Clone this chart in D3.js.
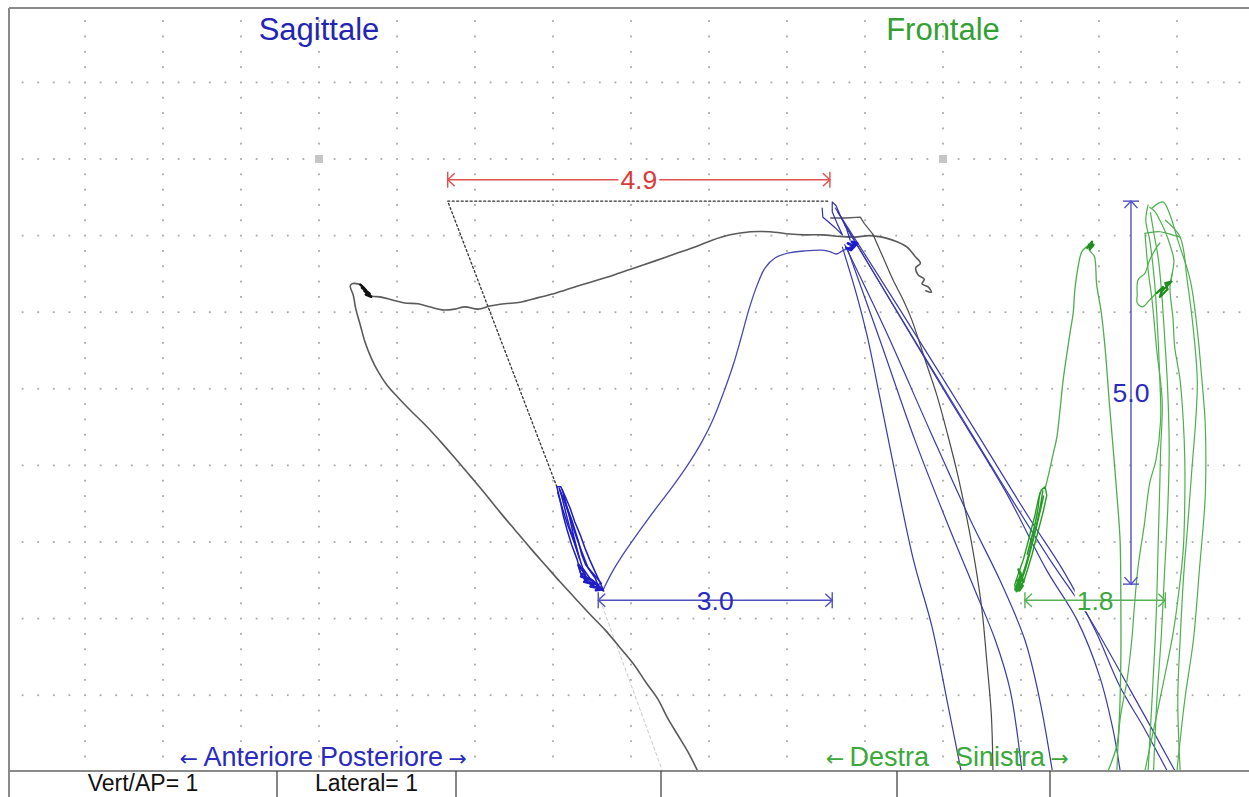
<!DOCTYPE html>
<html>
<head>
<meta charset="utf-8">
<script src="https://cdn.jsdelivr.net/npm/d3@7"></script>
<style>
  html, body { margin: 0; padding: 0; background: #fff; overflow: hidden; }
  text { font-family: "Liberation Sans", Arial, sans-serif; }
</style>
</head>
<body>
<svg id="chart" width="1249" height="797"></svg>
<script>
// ---- Recorded jaw movement traces, in mm, relative to each view's reference marker ----
// (x: sagittal = anterior/posterior, frontal = right/left; y: vertical opening, downward)

// Sagittal view, vertical/AP trace (grey)
const sagGrayMain = [
  [4.85,7.98],[4.73,7.74],[4.60,7.52],[4.47,7.30],[4.35,7.06],[4.19,6.83],[4.03,6.59],[3.86,6.38],
  [3.67,6.15],[3.47,5.94],[3.28,5.73],[3.09,5.52],[2.90,5.30],[2.71,5.08],[2.51,4.84],[2.32,4.61],
  [2.13,4.37],[1.94,4.14],[1.74,3.90],[1.55,3.68],[1.36,3.47],[1.17,3.28],[1.01,3.11],[0.87,2.95],
  [0.76,2.78],[0.67,2.60],[0.59,2.39],[0.53,2.17],[0.47,1.95],[0.44,1.78],[0.40,1.66],[0.42,1.63],
  [0.50,1.63],[0.56,1.66],[0.63,1.74],[0.68,1.79],[0.78,1.80],[0.94,1.84],[1.10,1.88],[1.27,1.89],
  [1.42,1.93],[1.58,1.97],[1.74,1.96],[1.87,1.93],[2.04,1.96],[2.19,1.92],[2.38,1.89],[2.58,1.87],
  [2.81,1.81],[3.04,1.75],[3.28,1.67],[3.54,1.59],[3.79,1.51],[4.05,1.42],[4.31,1.33],[4.56,1.24],
  [4.82,1.15],[5.04,1.06],[5.27,0.99],[5.53,0.95],[5.78,0.95],[6.04,0.98],[6.23,0.99],[6.45,0.99],
  [6.68,1.01],[6.87,1.02],[7.06,1.00],[7.26,1.03],[7.41,1.08],[7.54,1.15],[7.64,1.27],[7.71,1.36],
  [7.65,1.42],[7.68,1.51],[7.76,1.57],[7.73,1.63],[7.81,1.67],[7.85,1.74],[7.78,1.72]
];
const sagGrayUpper = [[6.56,0.77],[6.75,0.77],[6.94,0.76],[6.99,0.84],[7.10,0.98]];
const sagGrayFall = [
  [7.10,0.98],[7.23,1.28],[7.36,1.58],[7.49,1.84],[7.60,2.10],[7.77,2.62],[7.92,3.08],[8.06,3.60],
  [8.19,4.13],[8.31,4.71],[8.41,5.27],[8.50,5.89],[8.56,6.54],[8.62,7.26],[8.64,7.98]
];
const sagGrayKnot = [[0.53,1.64],[0.60,1.71],[0.55,1.68],[0.65,1.76],[0.58,1.72],[0.67,1.80],[0.60,1.77]];
const sagGuide = [[3.58,5.69],[4.40,7.98]];

// Sagittal view, incisal point (blue)
const sagBlueLoops = [
  [[3.05,4.28],[3.09,4.45],[3.13,4.65],[3.18,4.84],[3.24,5.04],[3.31,5.23],[3.35,5.39],[3.41,5.50],
   [3.50,5.56],[3.60,5.61],[3.65,5.64],[3.60,5.52],[3.54,5.39],[3.47,5.23],[3.41,5.08],[3.35,4.91],
   [3.28,4.74],[3.22,4.56],[3.15,4.39],[3.10,4.28],[3.05,4.28]],
  [[3.06,4.35],[3.12,4.56],[3.19,4.78],[3.27,5.00],[3.33,5.18],[3.38,5.34],[3.47,5.47],[3.58,5.57],
   [3.54,5.47],[3.45,5.34],[3.37,5.13],[3.29,4.91],[3.22,4.69],[3.14,4.45],[3.09,4.32]],
  [[3.12,4.32],[3.17,4.52],[3.24,4.71],[3.32,4.97],[3.37,5.17],[3.42,5.30],[3.53,5.43],[3.62,5.54],
   [3.56,5.56],[3.44,5.50],[3.36,5.43],[3.32,5.30]],
  [[3.08,4.30],[3.11,4.40],[3.16,4.60],[3.21,4.80],[3.28,5.02],[3.34,5.22],[3.31,5.10],[3.26,4.90],
   [3.20,4.62],[3.14,4.40]],
  [[3.33,5.30],[3.40,5.40],[3.36,5.45],[3.45,5.48],[3.40,5.52],[3.52,5.55],[3.48,5.58],[3.58,5.60],
   [3.55,5.63],[3.63,5.62],[3.50,5.50],[3.42,5.46],[3.38,5.36]]
];
const sagBlueRise = [
  [3.64,5.63],[3.76,5.39],[3.92,5.13],[4.12,4.84],[4.32,4.56],[4.53,4.28],[4.73,3.99],[4.91,3.69],
  [5.06,3.38],[5.19,3.04],[5.31,2.69],[5.41,2.34],[5.51,1.97],[5.62,1.64],[5.72,1.42],[5.85,1.29],
  [6.01,1.23],[6.23,1.20],[6.45,1.19],[6.55,1.21],[6.63,1.24],[6.71,1.20],[6.81,1.15]
];
const sagBlueKnot = [[6.78,1.10],[6.86,1.14],[6.80,1.17],[6.88,1.12],[6.83,1.08],[6.90,1.10],[6.82,1.19],[6.76,1.16]];
const sagBlueTop = [
  [6.45,0.64],[6.46,0.76],[6.53,0.82],[6.62,0.90],[6.71,0.99],[6.65,0.86],[6.58,0.69],[6.58,0.56],
  [6.63,0.61],[6.68,0.73],[6.76,0.90],[6.81,1.06]
];
const sagBlueStrokes = [
  [[6.71,1.15],[6.90,1.80],[7.03,2.32],[7.19,3.11],[7.36,3.97],[7.62,5.23],[7.86,6.11],[8.05,7.06],[8.23,7.98]],
  [[6.78,1.19],[7.19,2.36],[7.64,3.67],[8.09,4.84],[8.41,5.63],[8.67,6.28],[8.86,6.93],[9.01,7.98]],
  [[6.74,1.12],[7.26,2.23],[7.83,3.54],[8.35,4.71],[8.73,5.50],[9.05,6.28],[9.24,7.06],[9.40,7.98]],
  [[6.65,0.69],[7.32,1.84],[8.09,3.15],[8.79,4.32],[9.33,5.37],[9.72,6.02],[10.01,6.76],[10.18,7.45],[10.27,7.98]],
  [[6.62,0.64],[7.45,1.97],[8.41,3.54],[9.12,4.71],[9.54,5.37],[9.95,6.15],[10.27,6.89],[10.59,7.45],[10.87,7.98]],
  [[6.74,0.86],[7.71,2.49],[8.73,4.19],[9.37,5.23],[9.85,5.95],[10.40,6.93],[10.97,7.98]]
];

// Frontal view, incisal point (green)
const froGreenLoops = [
  [[1.31,4.28],[1.33,4.39],[1.29,4.58],[1.24,4.78],[1.19,4.97],[1.14,5.17],[1.09,5.34],[1.04,5.50],
   [0.99,5.60],[0.94,5.65],[0.92,5.56],[0.97,5.40],[1.03,5.23],[1.08,5.04],[1.13,4.84],[1.18,4.65],
   [1.22,4.45],[1.26,4.32],[1.31,4.28]],
  [[1.28,4.33],[1.25,4.52],[1.21,4.72],[1.16,4.93],[1.11,5.12],[1.06,5.30],[1.01,5.46],[0.96,5.58],
   [1.00,5.52],[1.05,5.38],[1.10,5.20],[1.15,5.00],[1.20,4.80],[1.25,4.58],[1.29,4.40]],
  [[1.24,4.36],[1.22,4.55],[1.18,4.76],[1.13,4.96],[1.08,5.16],[1.12,5.02],[1.17,4.82],[1.21,4.62]],
  [[0.95,5.50],[1.00,5.55],[0.96,5.60],[1.02,5.57],[0.98,5.63],[0.93,5.62],[0.99,5.45],[1.03,5.52],[0.97,5.36]]
];
const froGreenArc = [
  [1.31,4.30],[1.36,4.09],[1.41,3.86],[1.46,3.63],[1.50,3.28],[1.54,2.89],[1.59,2.53],[1.63,2.26],
  [1.67,2.00],[1.69,1.71],[1.73,1.42],[1.78,1.21],[1.85,1.14],[1.91,1.10],[1.88,1.19],[1.94,1.27],
  [1.97,1.64],[2.03,2.01],[2.08,2.49],[2.13,3.15],[2.18,3.76],[2.23,4.39],[2.27,4.97],[2.28,5.76],
  [2.28,6.54],[2.26,7.32],[2.23,7.65],[2.12,7.98]
];
const froGreenPeak = [[1.85,1.16],[1.91,1.08],[1.88,1.18],[1.93,1.12],[1.87,1.12]];
const froGreenStrokes = [
  [[2.63,0.60],[2.60,0.80],[2.65,1.06],[2.71,1.58],[2.74,2.01],[2.78,2.89],[2.79,3.41],[2.73,3.93],
   [2.65,4.23],[2.58,4.78],[2.50,5.33],[2.45,5.89],[2.42,6.28],[2.36,6.80],[2.27,7.32],[2.23,7.98]],
  [[2.59,0.97],[2.63,1.45],[2.68,1.84],[2.74,2.49],[2.81,3.15],[2.79,3.80],[2.78,4.23],[2.76,4.97],
   [2.74,5.76],[2.72,6.28],[2.68,7.06],[2.63,7.98]],
  [[2.94,1.49],[2.91,1.67],[2.95,2.10],[2.97,2.45],[3.04,2.89],[3.08,3.41],[3.10,3.93],[3.10,4.45],
   [3.08,5.10],[3.01,5.76],[2.95,6.19],[2.78,7.06],[2.59,7.98]],
  [[2.68,0.64],[2.82,0.56],[2.91,0.73],[3.01,1.06],[3.17,1.58],[3.26,2.23],[3.32,2.89],[3.36,3.41],
   [3.37,3.93],[3.36,4.45],[3.29,5.33],[3.21,6.28],[3.10,7.06],[3.00,7.98]],
  [[2.85,0.80],[3.04,1.02],[3.13,1.58],[3.21,2.23],[3.26,2.89],[3.24,3.41],[3.19,4.06],[3.13,4.88],
   [3.09,5.37],[3.04,6.28],[3.01,7.06],[3.04,7.98]],
  [[2.78,1.10],[2.74,1.15],[2.65,1.32],[2.59,1.49],[2.50,1.58],[2.49,1.78],[2.49,1.88],[2.56,1.93],
   [2.65,1.84],[2.74,1.75],[2.82,1.71],[2.91,1.62],[2.94,1.49],[2.96,1.32],[2.91,1.12],[2.85,0.95],
   [2.78,0.80],[2.72,0.69],[2.65,0.63]],
  [[2.59,0.97],[2.78,0.95],[2.94,0.99],[3.04,1.02]],
  [[2.66,0.70],[2.70,0.95],[2.76,1.30],[2.80,1.70],[2.84,2.30],[2.88,3.00],[2.90,3.80],[2.88,4.60],
   [2.84,5.40],[2.80,6.20],[2.74,7.10],[2.70,7.98]]
];
const froGreenKnot = [[2.74,1.75],[2.82,1.67],[2.78,1.80],[2.88,1.70],[2.85,1.62],[2.93,1.60],[2.80,1.73]];

// Measurements (mm): value and start point of each
const dimValues  = [4.9, 3.0, 5.0, 1.8];
const dimStarts  = [[1.65, 0.27], [3.58, 5.76], [2.41, 0.55], [1.05, 5.76]];
// Reference triangle: closed position, max protrusion level, open position
const refTriangle = [[3.05, 4.28], [1.65, 0.55], [6.55, 0.55]];

// Text
const viewTitles = ["Sagittale", "Frontale"];
const axisLabels = [["Anteriore", "Posteriore"], ["Destra", "Sinistra"]];
const tableCells = ["Vert/AP= 1", "Lateral= 1", "", "", "", ""];

// ---- Drawing ----
const W = 1249, H = 797;
const svg = d3.select("#chart");
const xS = d3.scaleLinear().domain([0, 10]).range([319, 1099]);   // sagittal, mm
const xF = d3.scaleLinear().domain([0, 4]).range([943, 1255]);    // frontal, mm
const y  = d3.scaleLinear().domain([0, 8]).range([159, 771.8]);   // vertical, mm

const box = { left: 9, top: 8, bottom: 771 };
const BLUE = "#2424b4", GREEN = "#33a033", RED = "#d83a3a";

svg.append("defs").append("clipPath").attr("id", "plotClip")
  .append("rect").attr("x", box.left).attr("y", box.top)
  .attr("width", W - box.left).attr("height", box.bottom - box.top);

// dotted grid: every mm a dotted line, dots every 0.2 mm
const grid = svg.append("g").attr("fill", "#a8a8a8");
const rowMm = d3.range(-1, 8);
const colMm = d3.range(-3, 13);
const stepsX = d3.range(-19, 64).map(i => i / 5);
const stepsY = d3.range(-9, 40).map(i => i / 5);
rowMm.forEach(r => stepsX.forEach(s => {
  const px = xS(s);
  if (px > box.left + 4 && px < W) grid.append("rect").attr("x", px - 0.9).attr("y", y(r) - 0.9).attr("width", 1.8).attr("height", 1.8);
}));
colMm.forEach(c => stepsY.forEach(s => {
  const py = y(s);
  if (py > box.top + 6 && py < box.bottom - 4 && Math.abs(s - Math.round(s)) > 0.01)
    grid.append("rect").attr("x", xS(c) - 0.9).attr("y", py - 0.9).attr("width", 1.8).attr("height", 1.8);
}));

// reference markers
[xS(0), xF(0)].forEach(px => svg.append("rect")
  .attr("x", px - 4).attr("y", y(0) - 4).attr("width", 8).attr("height", 8).attr("fill", "#c6c6c6"));

const traces = svg.append("g").attr("clip-path", "url(#plotClip)").attr("fill", "none")
  .attr("stroke-linejoin", "round").attr("stroke-linecap", "round");

function trace(data, xs, color, width, curve, extra) {
  const gen = d3.line().x(d => xs(d[0])).y(d => y(d[1])).curve(curve || d3.curveLinear);
  const p = traces.append("path").attr("d", gen(data)).attr("stroke", color).attr("stroke-width", width);
  if (extra) extra(p);
  return p;
}
const smooth = d3.curveCatmullRom.alpha(0.5);

// guide from closed position downwards
trace(sagGuide, xS, "#c8c8c8", 1, d3.curveLinear, p => p.attr("stroke-dasharray", "3,3"));

// reference triangle (dotted)
trace([refTriangle[0], refTriangle[1]], xS, "#333", 1.3, d3.curveLinear, p => p.attr("stroke-dasharray", "2,2.5"));
trace([refTriangle[1], refTriangle[2]], xS, "#333", 1.3, d3.curveLinear, p => p.attr("stroke-dasharray", "2,2.5"));

// grey sagittal trace
trace(sagGrayMain, xS, "#5a5a5a", 1.6, smooth);
trace(sagGrayUpper, xS, "#5a5a5a", 1.3);
trace(sagGrayFall, xS, "#4a4a4a", 1.2, smooth);
trace(sagGrayKnot, xS, "#111", 2.4);

// blue sagittal trace
sagBlueStrokes.forEach(s => trace(s, xS, "#3a3aa8", 1.2, smooth));
trace(sagBlueRise, xS, "#4848b4", 1.3, smooth);
trace(sagBlueTop, xS, "#3030b0", 1.2);
trace(sagBlueKnot, xS, "#1a1ad0", 2.6);
sagBlueLoops.forEach((s, i) => trace(s, xS, "#1e1ec4", i === 4 ? 2.6 : 1.5));

// green frontal trace
froGreenStrokes.forEach(s => trace(s, xF, "#4cb04c", 1.2, smooth));
trace(froGreenArc, xF, "#4cae4c", 1.3, smooth);
trace(froGreenPeak, xF, "#1e8f1e", 2.4);
trace(froGreenKnot, xF, "#1e8f1e", 2.2);
froGreenLoops.forEach((s, i) => trace(s, xF, "#289a28", i === 3 ? 2.8 : 1.4));

// measurement annotations
const dims = svg.append("g");
function dimension(i, xs, vertical, color, lineColor) {
  const v = dimValues[i], s = dimStarts[i];
  const g = dims.append("g").attr("stroke", lineColor).attr("stroke-width", 1.4).attr("fill", "none");
  const label = v.toFixed(1);
  let mx, my;
  if (!vertical) {
    const x0 = xs(s[0]), x1 = xs(s[0] + v), yy = y(s[1]);
    g.append("line").attr("x1", x0).attr("x2", x1).attr("y1", yy).attr("y2", yy);
    [[x0, 1], [x1, -1]].forEach(([x, d]) => {
      g.append("line").attr("x1", x).attr("x2", x).attr("y1", yy - 8).attr("y2", yy + 8);
      g.append("polyline").attr("points", `${x + 7 * d},${yy - 6.5} ${x},${yy} ${x + 7 * d},${yy + 6.5}`);
    });
    mx = (x0 + x1) / 2; my = yy;
  } else {
    const xx = xs(s[0]), y0 = y(s[1]), y1 = y(s[1] + v);
    g.append("line").attr("x1", xx).attr("x2", xx).attr("y1", y0).attr("y2", y1);
    [[y0, 1], [y1, -1]].forEach(([yy, d]) => {
      g.append("line").attr("x1", xx - 8).attr("x2", xx + 8).attr("y1", yy).attr("y2", yy);
      g.append("polyline").attr("points", `${xx - 6.5},${yy + 7 * d} ${xx},${yy} ${xx + 6.5},${yy + 7 * d}`);
    });
    mx = xx; my = (y0 + y1) / 2;
  }
  const t = dims.append("text").attr("x", mx).attr("y", my + 9.5).attr("text-anchor", "middle")
    .attr("font-size", 26.5).attr("fill", color).text(label);
  const bb = t.node().getBBox();
  dims.insert("rect", "text").attr("x", bb.x - 2).attr("y", my - 11).attr("width", bb.width + 4)
    .attr("height", 22).attr("fill", "#fff");
}
dimension(0, xS, false, RED, "#e05050");
dimension(1, xS, false, "#2a2ac0", "#5050c0");
dimension(2, xF, true, "#2a2ac0", "#5050c0");
dimension(3, xF, false, "#3aa83a", "#55b355");

// view titles
[[xS(0), BLUE], [xF(0), GREEN]].forEach(([px, c], i) =>
  svg.append("text").attr("x", px).attr("y", 40).attr("text-anchor", "middle")
    .attr("font-size", 31).attr("fill", c).text(viewTitles[i]));

// direction labels under each view, with thin arrows
function arrowLabel(px, anchor, word, color, arrowLeft) {
  const t = svg.append("text").attr("x", px).attr("y", 766).attr("text-anchor", anchor)
    .attr("font-size", 27).attr("fill", color);
  const arrow = (ch) => t.append("tspan").attr("font-family", "DejaVu Sans").attr("font-size", 22).text(ch);
  if (arrowLeft) { arrow("\u2190"); t.append("tspan").text("\u2009" + word); }
  else { t.append("tspan").text(word + "\u2009"); arrow("\u2192"); }
}
arrowLabel(xS(0) - 6, "end", axisLabels[0][0], "#2a2ac0", true);
arrowLabel(xS(0) + 1, "start", axisLabels[0][1], "#2a2ac0", false);
arrowLabel(xF(0) - 14, "end", axisLabels[1][0], "#3aa83a", true);
arrowLabel(xF(0) + 12, "start", axisLabels[1][1], "#3aa83a", false);

// frame
const frame = svg.append("g").attr("stroke", "#8a8a8a").attr("stroke-width", 2);
frame.append("line").attr("x1", box.left).attr("x2", W).attr("y1", box.top).attr("y2", box.top);
frame.append("line").attr("x1", box.left).attr("x2", box.left).attr("y1", box.top).attr("y2", H);
frame.append("line").attr("x1", box.left).attr("x2", W).attr("y1", box.bottom).attr("y2", box.bottom);

// settings table under the plot
const cellEdges = [9, 277, 456, 661, 897, 1050, W];
cellEdges.slice(1, -1).forEach(x => frame.append("line").attr("x1", x).attr("x2", x)
  .attr("y1", box.bottom).attr("y2", H).attr("stroke", "#444").attr("stroke-width", 1.3));
tableCells.forEach((t, i) => {
  if (!t) return;
  svg.append("text").attr("x", (cellEdges[i] + cellEdges[i + 1]) / 2).attr("y", 791)
    .attr("text-anchor", "middle").attr("font-size", 23).attr("fill", "#111").text(t);
});
</script>
</body>
</html>
